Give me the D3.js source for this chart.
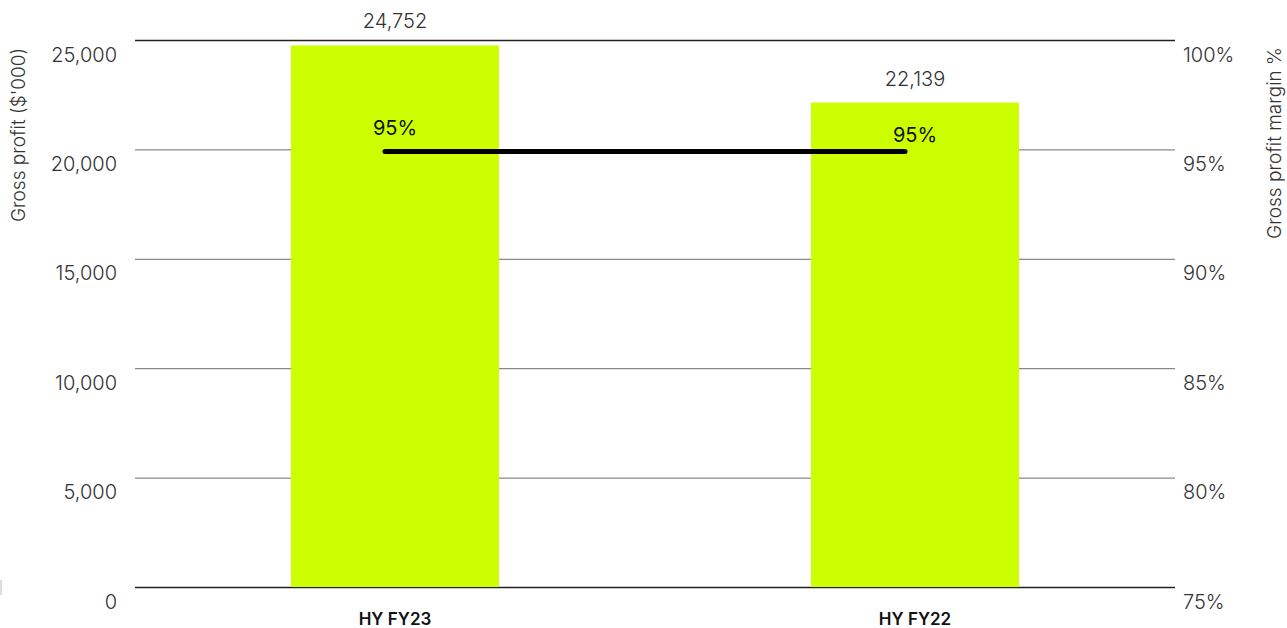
<!DOCTYPE html>
<html>
<head>
<meta charset="utf-8">
<script src="https://cdn.jsdelivr.net/npm/d3@7"></script>
<style>
    body { margin: 0; background: #fff; }
    text { font-family: Inter, "Noto Sans", sans-serif; }
    .domain { display: none; }
</style>
</head>
<body>
<div class="chart"></div>
<script>
// Gross profit vs margin, two half years

var categories = ["HY FY23", "HY FY22"];
var grossProfit = [24752, 22139];
var marginPct = [94.9, 94.9];
var marginLabels = ["95%", "95%"];
var leftTicks = [0, 5000, 10000, 15000, 20000, 25000];
var rightTicks = [75, 80, 85, 90, 95, 100];

var svgWidth = 1287;
var svgHeight = 628;

var margin = { top: 40, right: 112, bottom: 41, left: 135 };
var width = svgWidth - margin.left - margin.right;
var height = svgHeight - margin.top - margin.bottom;

var svg = d3.select(".chart")
    .append("svg")
    .attr("width", svgWidth)
    .attr("height", svgHeight);

var chartGroup = svg.append("g")
    .attr("transform", `translate(${margin.left}, ${margin.top})`);

// scales
var xScale = d3.scaleBand()
    .domain(categories)
    .range([0, width])
    .paddingInner(0.6)
    .paddingOuter(0.3);

var yLeft = d3.scaleLinear()
    .domain([0, 25000])
    .range([height, 0]);

var yRight = d3.scaleLinear()
    .domain([75, 100])
    .range([height, 0]);

// grid lines
var grid = chartGroup.append("g")
    .call(d3.axisLeft(yLeft).tickValues(leftTicks).tickSize(-width).tickFormat(""));
grid.selectAll(".tick line")
    .attr("stroke", d => (d === 0 || d === 25000) ? "#222" : "#8a8a8a")
    .attr("stroke-width", 1.3);

// left tick labels
var leftAxis = chartGroup.append("g")
    .call(d3.axisLeft(yLeft).tickValues(leftTicks).tickSize(0).tickPadding(18)
        .tickFormat(d3.format(",")));
leftAxis.selectAll("text")
    .attr("dy", "1.05em")
    .attr("font-size", "20px")
    .attr("font-weight", 300)
    .attr("fill", "#333");

// right tick labels
var rightAxis = chartGroup.append("g")
    .attr("transform", `translate(${width}, 0)`)
    .call(d3.axisRight(yRight).tickValues(rightTicks).tickSize(0).tickPadding(8)
        .tickFormat(d => d + "%"));
rightAxis.selectAll("text")
    .attr("dy", "1.05em")
    .attr("font-size", "20px")
    .attr("font-weight", 300)
    .attr("fill", "#333");

// bars
chartGroup.selectAll("rect.bar")
    .data(grossProfit)
    .enter()
    .append("rect")
    .attr("class", "bar")
    .attr("x", (d, i) => xScale(categories[i]))
    .attr("y", d => yLeft(d))
    .attr("width", xScale.bandwidth())
    .attr("height", d => height - yLeft(d))
    .attr("fill", "#ccff00");

// bar value labels
chartGroup.selectAll("text.barLabel")
    .data(grossProfit)
    .enter()
    .append("text")
    .attr("class", "barLabel")
    .attr("x", (d, i) => xScale(categories[i]) + xScale.bandwidth() / 2)
    .attr("y", d => yLeft(d) - 17)
    .attr("text-anchor", "middle")
    .attr("font-size", "20px")
    .attr("font-weight", 300)
    .attr("fill", "#333")
    .text(d3.format(","));

// margin line
var lineX = (d, i) => xScale(categories[i]) + xScale.bandwidth() / 2 - 10;
var line = d3.line()
    .x(lineX)
    .y(d => yRight(d));

chartGroup.append("path")
    .datum(marginPct)
    .attr("d", line)
    .attr("fill", "none")
    .attr("stroke", "#000")
    .attr("stroke-width", 5)
    .attr("stroke-linecap", "round");

var labelOffsets = [-17, -10];
chartGroup.selectAll("text.lineLabel")
    .data(marginPct)
    .enter()
    .append("text")
    .attr("class", "lineLabel")
    .attr("x", (d, i) => xScale(categories[i]) + xScale.bandwidth() / 2)
    .attr("y", (d, i) => yRight(d) + labelOffsets[i])
    .attr("text-anchor", "middle")
    .attr("font-size", "20px")
    .attr("fill", "#111")
    .text((d, i) => marginLabels[i]);

// category labels
chartGroup.selectAll("text.cat")
    .data(categories)
    .enter()
    .append("text")
    .attr("class", "cat")
    .attr("x", d => xScale(d) + xScale.bandwidth() / 2)
    .attr("y", height + 38)
    .attr("text-anchor", "middle")
    .attr("font-size", "17px")
    .attr("font-weight", 600)
    .attr("fill", "#111")
    .text(d => d);

// axis titles
svg.append("text")
    .attr("transform", "translate(25, 135) rotate(-90)")
    .attr("text-anchor", "middle")
    .attr("font-size", "19px")
    .attr("font-weight", 300)
    .attr("fill", "#333")
    .text("Gross profit ($'000)");

svg.append("text")
    .attr("transform", "translate(1281, 143) rotate(-90)")
    .attr("text-anchor", "middle")
    .attr("font-size", "19px")
    .attr("font-weight", 300)
    .attr("fill", "#333")
    .text("Gross profit margin %");

// faint mark at the left edge
svg.append("line")
    .attr("x1", 1).attr("x2", 1)
    .attr("y1", 580).attr("y2", 595)
    .attr("stroke", "#ddd")
    .attr("stroke-width", 2);
</script>
</body>
</html>
